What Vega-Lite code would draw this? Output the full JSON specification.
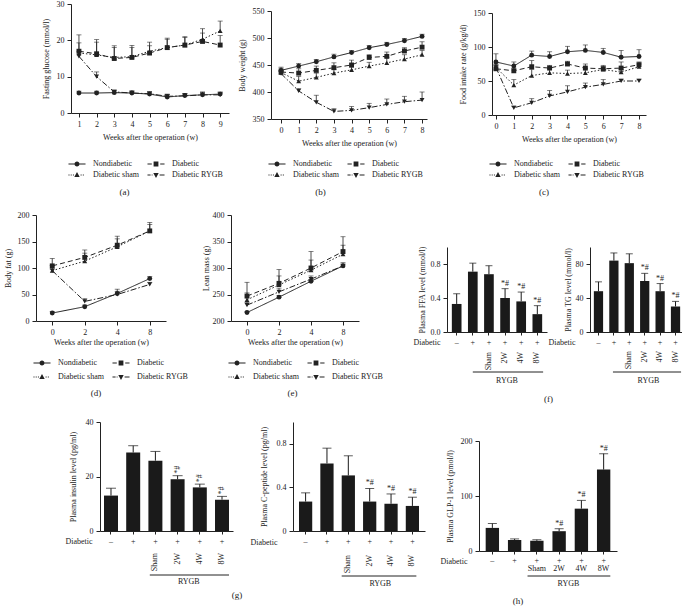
{
"$schema": "https://vega.github.io/schema/vega-lite/v6.json",
"padding": {"left": 4, "top": 0, "right": 0, "bottom": 0},
"background": "white",
"center": true,
"spacing": 14,
"datasets": {
"glucose": [
{"week":1,"group":"Nondiabetic","mean":5.5,"hi":6.0},{"week":2,"group":"Nondiabetic","mean":5.5,"hi":6.0},{"week":3,"group":"Nondiabetic","mean":5.6,"hi":6.1},{"week":4,"group":"Nondiabetic","mean":5.5,"hi":6.1},{"week":5,"group":"Nondiabetic","mean":5.2,"hi":5.8},{"week":6,"group":"Nondiabetic","mean":4.4,"hi":5.1},{"week":7,"group":"Nondiabetic","mean":4.8,"hi":5.4},{"week":8,"group":"Nondiabetic","mean":5.0,"hi":5.8},{"week":9,"group":"Nondiabetic","mean":5.2,"hi":5.8},
{"week":1,"group":"Diabetic","mean":17.0,"hi":21.5},{"week":2,"group":"Diabetic","mean":16.3,"hi":20.2},{"week":3,"group":"Diabetic","mean":15.0,"hi":18.5},{"week":4,"group":"Diabetic","mean":15.3,"hi":18.6},{"week":5,"group":"Diabetic","mean":16.5,"hi":19.5},{"week":6,"group":"Diabetic","mean":18.0,"hi":20.6},{"week":7,"group":"Diabetic","mean":18.7,"hi":21.0},{"week":8,"group":"Diabetic","mean":19.7,"hi":23.2},{"week":9,"group":"Diabetic","mean":18.7,"hi":21.3},
{"week":1,"group":"Diabetic sham","mean":16.5,"hi":19.3},{"week":2,"group":"Diabetic sham","mean":16.0,"hi":19.5},{"week":3,"group":"Diabetic sham","mean":15.3,"hi":18.0},{"week":4,"group":"Diabetic sham","mean":15.5,"hi":18.0},{"week":5,"group":"Diabetic sham","mean":17.0,"hi":18.5},{"week":6,"group":"Diabetic sham","mean":18.0,"hi":20.3},{"week":7,"group":"Diabetic sham","mean":18.7,"hi":20.8},{"week":8,"group":"Diabetic sham","mean":20.3,"hi":22.0},{"week":9,"group":"Diabetic sham","mean":22.6,"hi":25.3},
{"week":1,"group":"Diabetic RYGB","mean":15.6,"hi":17.0},{"week":2,"group":"Diabetic RYGB","mean":10.0,"hi":11.3},{"week":3,"group":"Diabetic RYGB","mean":5.8,"hi":6.3},{"week":4,"group":"Diabetic RYGB","mean":5.5,"hi":6.0},{"week":5,"group":"Diabetic RYGB","mean":5.3,"hi":5.8},{"week":6,"group":"Diabetic RYGB","mean":4.6,"hi":5.2},{"week":7,"group":"Diabetic RYGB","mean":4.7,"hi":5.3},{"week":8,"group":"Diabetic RYGB","mean":5.0,"hi":5.6},{"week":9,"group":"Diabetic RYGB","mean":5.0,"hi":5.6}
],
"weight": [
{"week":0,"group":"Nondiabetic","mean":440,"hi":446},{"week":1,"group":"Nondiabetic","mean":448,"hi":453},{"week":2,"group":"Nondiabetic","mean":456,"hi":460},{"week":3,"group":"Nondiabetic","mean":465,"hi":470},{"week":4,"group":"Nondiabetic","mean":473,"hi":477},{"week":5,"group":"Nondiabetic","mean":482,"hi":486},{"week":6,"group":"Nondiabetic","mean":488,"hi":492},{"week":7,"group":"Nondiabetic","mean":495,"hi":499},{"week":8,"group":"Nondiabetic","mean":503,"hi":507},
{"week":0,"group":"Diabetic","mean":437,"hi":444},{"week":1,"group":"Diabetic","mean":435,"hi":443},{"week":2,"group":"Diabetic","mean":440,"hi":448},{"week":3,"group":"Diabetic","mean":445,"hi":454},{"week":4,"group":"Diabetic","mean":450,"hi":459},{"week":5,"group":"Diabetic","mean":464,"hi":469},{"week":6,"group":"Diabetic","mean":466,"hi":474},{"week":7,"group":"Diabetic","mean":476,"hi":482},{"week":8,"group":"Diabetic","mean":483,"hi":493},
{"week":0,"group":"Diabetic sham","mean":436,"hi":441},{"week":1,"group":"Diabetic sham","mean":420,"hi":429},{"week":2,"group":"Diabetic sham","mean":427,"hi":435},{"week":3,"group":"Diabetic sham","mean":435,"hi":442},{"week":4,"group":"Diabetic sham","mean":441,"hi":446},{"week":5,"group":"Diabetic sham","mean":448,"hi":455},{"week":6,"group":"Diabetic sham","mean":454,"hi":464},{"week":7,"group":"Diabetic sham","mean":461,"hi":469},{"week":8,"group":"Diabetic sham","mean":469,"hi":477},
{"week":0,"group":"Diabetic RYGB","mean":434,"hi":438},{"week":1,"group":"Diabetic RYGB","mean":402,"hi":406},{"week":2,"group":"Diabetic RYGB","mean":381,"hi":394},{"week":3,"group":"Diabetic RYGB","mean":364,"hi":369},{"week":4,"group":"Diabetic RYGB","mean":366,"hi":373},{"week":5,"group":"Diabetic RYGB","mean":371,"hi":379},{"week":6,"group":"Diabetic RYGB","mean":377,"hi":387},{"week":7,"group":"Diabetic RYGB","mean":382,"hi":392},{"week":8,"group":"Diabetic RYGB","mean":385,"hi":400}
],
"food": [
{"week":0,"group":"Nondiabetic","mean":78,"hi":90},{"week":1,"group":"Nondiabetic","mean":72,"hi":78},{"week":2,"group":"Nondiabetic","mean":88,"hi":94},{"week":3,"group":"Nondiabetic","mean":86,"hi":93},{"week":4,"group":"Nondiabetic","mean":93,"hi":101},{"week":5,"group":"Nondiabetic","mean":95,"hi":103},{"week":6,"group":"Nondiabetic","mean":92,"hi":98},{"week":7,"group":"Nondiabetic","mean":85,"hi":95},{"week":8,"group":"Nondiabetic","mean":86,"hi":96},
{"week":0,"group":"Diabetic","mean":68,"hi":73},{"week":1,"group":"Diabetic","mean":65,"hi":69},{"week":2,"group":"Diabetic","mean":71,"hi":80},{"week":3,"group":"Diabetic","mean":69,"hi":73},{"week":4,"group":"Diabetic","mean":75,"hi":79},{"week":5,"group":"Diabetic","mean":69,"hi":75},{"week":6,"group":"Diabetic","mean":68,"hi":73},{"week":7,"group":"Diabetic","mean":69,"hi":78},{"week":8,"group":"Diabetic","mean":74,"hi":78},
{"week":0,"group":"Diabetic sham","mean":70,"hi":75},{"week":1,"group":"Diabetic sham","mean":44,"hi":52},{"week":2,"group":"Diabetic sham","mean":58,"hi":67},{"week":3,"group":"Diabetic sham","mean":62,"hi":68},{"week":4,"group":"Diabetic sham","mean":61,"hi":66},{"week":5,"group":"Diabetic sham","mean":62,"hi":68},{"week":6,"group":"Diabetic sham","mean":67,"hi":71},{"week":7,"group":"Diabetic sham","mean":63,"hi":67},{"week":8,"group":"Diabetic sham","mean":71,"hi":75},
{"week":0,"group":"Diabetic RYGB","mean":70,"hi":74},{"week":1,"group":"Diabetic RYGB","mean":10.5,"hi":13},{"week":2,"group":"Diabetic RYGB","mean":18,"hi":24},{"week":3,"group":"Diabetic RYGB","mean":28,"hi":36},{"week":4,"group":"Diabetic RYGB","mean":34,"hi":43},{"week":5,"group":"Diabetic RYGB","mean":41,"hi":47},{"week":6,"group":"Diabetic RYGB","mean":45,"hi":52},{"week":7,"group":"Diabetic RYGB","mean":50,"hi":53},{"week":8,"group":"Diabetic RYGB","mean":50,"hi":53}
],
"fat": [
{"week":0,"group":"Nondiabetic","mean":15,"hi":18},{"week":2,"group":"Nondiabetic","mean":27,"hi":30},{"week":4,"group":"Nondiabetic","mean":52,"hi":60},{"week":8,"group":"Nondiabetic","mean":80,"hi":84},
{"week":0,"group":"Diabetic","mean":104,"hi":118},{"week":2,"group":"Diabetic","mean":120,"hi":134},{"week":4,"group":"Diabetic","mean":143,"hi":160},{"week":8,"group":"Diabetic","mean":170,"hi":186},
{"week":0,"group":"Diabetic sham","mean":95,"hi":105},{"week":2,"group":"Diabetic sham","mean":113,"hi":128},{"week":4,"group":"Diabetic sham","mean":140,"hi":155},{"week":8,"group":"Diabetic sham","mean":170,"hi":182},
{"week":0,"group":"Diabetic RYGB","mean":95,"hi":98},{"week":2,"group":"Diabetic RYGB","mean":37,"hi":42},{"week":4,"group":"Diabetic RYGB","mean":50,"hi":56},{"week":8,"group":"Diabetic RYGB","mean":69,"hi":73}
],
"lean": [
{"week":0,"group":"Nondiabetic","mean":216,"hi":218},{"week":2,"group":"Nondiabetic","mean":245,"hi":248},{"week":4,"group":"Nondiabetic","mean":275,"hi":278},{"week":8,"group":"Nondiabetic","mean":304,"hi":307},
{"week":0,"group":"Diabetic","mean":247,"hi":273},{"week":2,"group":"Diabetic","mean":271,"hi":297},{"week":4,"group":"Diabetic","mean":300,"hi":331},{"week":8,"group":"Diabetic","mean":331,"hi":359},
{"week":0,"group":"Diabetic sham","mean":240,"hi":253},{"week":2,"group":"Diabetic sham","mean":268,"hi":285},{"week":4,"group":"Diabetic sham","mean":296,"hi":315},{"week":8,"group":"Diabetic sham","mean":326,"hi":343},
{"week":0,"group":"Diabetic RYGB","mean":230,"hi":235},{"week":2,"group":"Diabetic RYGB","mean":255,"hi":262},{"week":4,"group":"Diabetic RYGB","mean":279,"hi":285},{"week":8,"group":"Diabetic RYGB","mean":304,"hi":310}
],
"ffa": [
{"group":"ND","sub":"","mean":0.33,"hi":0.45,"sig":""},{"group":"D","sub":"","mean":0.71,"hi":0.81,"sig":""},{"group":"Sham","sub":"Sham","mean":0.68,"hi":0.78,"sig":""},{"group":"2W","sub":"2W","mean":0.40,"hi":0.51,"sig":"*#"},{"group":"4W","sub":"4W","mean":0.36,"hi":0.47,"sig":"*#"},{"group":"8W","sub":"8W","mean":0.21,"hi":0.31,"sig":"*#"}
],
"tg": [
{"group":"ND","sub":"","mean":48,"hi":59,"sig":""},{"group":"D","sub":"","mean":84,"hi":93,"sig":""},{"group":"Sham","sub":"Sham","mean":81,"hi":92,"sig":""},{"group":"2W","sub":"2W","mean":60,"hi":69,"sig":"*#"},{"group":"4W","sub":"4W","mean":48,"hi":57,"sig":"*#"},{"group":"8W","sub":"8W","mean":30,"hi":36,"sig":"*#"}
],
"insulin": [
{"group":"ND","sub":"","mean":13,"hi":15.7,"sig":""},{"group":"D","sub":"","mean":28.8,"hi":31.3,"sig":""},{"group":"Sham","sub":"Sham","mean":25.8,"hi":29.2,"sig":""},{"group":"2W","sub":"2W","mean":19,"hi":20.3,"sig":"*#"},{"group":"4W","sub":"4W","mean":16,"hi":17.2,"sig":"*#"},{"group":"8W","sub":"8W","mean":11.5,"hi":12.7,"sig":"*#"}
],
"cpep": [
{"group":"ND","sub":"","mean":0.27,"hi":0.35,"sig":""},{"group":"D","sub":"","mean":0.62,"hi":0.76,"sig":""},{"group":"Sham","sub":"Sham","mean":0.51,"hi":0.69,"sig":""},{"group":"2W","sub":"2W","mean":0.27,"hi":0.39,"sig":"*#"},{"group":"4W","sub":"4W","mean":0.25,"hi":0.34,"sig":"*#"},{"group":"8W","sub":"8W","mean":0.23,"hi":0.31,"sig":"*#"}
],
"glp": [
{"group":"ND","sub":"","mean":42,"hi":50,"sig":""},{"group":"D","sub":"","mean":20,"hi":22,"sig":""},{"group":"Sham","sub":"Sham","mean":18.5,"hi":20.5,"sig":""},{"group":"2W","sub":"2W","mean":36,"hi":40.5,"sig":"*#"},{"group":"4W","sub":"4W","mean":77,"hi":92,"sig":"*#"},{"group":"8W","sub":"8W","mean":148,"hi":177,"sig":"*#"}
]
},
"vconcat": [
{"hconcat": [
 {"title": {"text": "(a)", "orient": "bottom", "anchor": "middle", "offset": 9, "frame": "bounds", "dx": -11},
  "width": 158, "height": 109, "data": {"name": "glucose"},
  "encoding": {
   "x": {"field": "week", "type": "quantitative", "scale": {"domain": [0.55, 9.5], "nice": false, "zero": false}, "axis": {"values": [1,2,3,4,5,6,7,8,9], "title": "Weeks after the operation (w)", "titlePadding": 5}},
   "y": {"field": "mean", "type": "quantitative", "scale": {"domain": [0, 30], "nice": false}, "axis": {"values": [0,10,20,30], "title": "Fasting glucose (mmol/l)", "titlePadding": 6}}
  },
  "layer": [
   {"mark": {"type": "rule", "color": "#222", "strokeWidth": 0.8}, "encoding": {"y2": {"field": "hi"}}},
   {"mark": {"type": "tick", "orient": "horizontal", "size": 5, "thickness": 0.8, "color": "#222"}, "encoding": {"y": {"field": "hi", "type": "quantitative"}}},
   {"mark": {"type": "line", "color": "#222", "strokeWidth": 1}, "encoding": {"strokeDash": {"field": "group", "type": "nominal", "scale": {"domain": ["Nondiabetic","Diabetic","Diabetic sham","Diabetic RYGB"], "range": [[1,0],[5,3],[1.5,2],[6,2,1.5,2]]}, "legend": null}}},
   {"mark": {"type": "point", "filled": true, "color": "#222", "size": 24, "opacity": 1}, "encoding": {"shape": {"field": "group", "type": "nominal", "scale": {"domain": ["Nondiabetic","Diabetic","Diabetic sham","Diabetic RYGB"], "range": ["circle","square","triangle-up","triangle-down"]}, "legend": null}}},
   {"transform": [{"filter": "false"}], "mark": {"type": "point", "filled": true, "color": "#222", "opacity": 1},
    "encoding": {"shape": {"field": "group", "type": "nominal", "scale": {"domain": ["Nondiabetic","Diabetic","Diabetic sham","Diabetic RYGB"], "range": ["M-1.42,-0.085H-0.42V0.085H-1.42ZM0.42,-0.085H1.42V0.085H0.42ZM0.42,0A0.42,0.42,0,1,1,-0.42,0A0.42,0.42,0,1,1,0.42,0Z","M-1.42,-0.085H-0.7V0.085H-1.42ZM0.7,-0.085H1.42V0.085H0.7ZM-0.4,-0.4H0.4V0.4H-0.4Z","M-1.42,-0.085H-1.25V0.085H-1.42ZM-1.05,-0.085H-0.88V0.085H-1.05ZM-0.68,-0.085H-0.51V0.085H-0.68ZM0.6,-0.085H0.77V0.085H0.6ZM0.97,-0.085H1.14V0.085H0.97ZM0,-0.48L0.45,0.34L-0.45,0.34Z","M-1.42,-0.085H-0.9V0.085H-1.42ZM-0.72,-0.085H-0.58V0.085H-0.72ZM0.6,-0.085H1.42V0.085H0.6ZM0,0.48L0.45,-0.34L-0.45,-0.34Z"]},
     "legend": {"title": null, "offset": 17, "rowPadding": 1}}}},
   {"data": {"values": [{}]}, "mark": {"type": "rule", "color": "#222", "strokeWidth": 0.8}, "encoding": {"x": {"datum": 2.6}, "y": {"datum": 9.6}, "y2": {"datum": 15.4}}},
   {"data": {"values": [{}]}, "mark": {"type": "text", "text": "*", "fontSize": 8, "color": "#222"}, "encoding": {"x": {"datum": 2.93}, "y": {"datum": 12.1}}}
  ],
  "resolve": {"scale": {"shape": "independent"}}
 },
 {"hconcat": [
  {"vconcat": [
   {"width": 1, "height": 1, "data": {"values": []}, "mark": {"type": "point"}, "encoding": {}},
   {"width": 156, "height": 108, "data": {"name": "weight"},
    "encoding": {
     "x": {"field": "week", "type": "quantitative", "scale": {"domain": [-0.57, 8.28], "nice": false, "zero": false}, "axis": {"values": [0,1,2,3,4,5,6,7,8], "title": "Weeks after the operation (w)", "titlePadding": 5}},
     "y": {"field": "mean", "type": "quantitative", "scale": {"domain": [350, 550], "nice": false, "zero": false}, "axis": {"values": [350,400,450,500,550], "title": "Body weight (g)", "titlePadding": 6}}
    },
    "layer": [
     {"mark": {"type": "rule", "color": "#222", "strokeWidth": 0.8}, "encoding": {"y2": {"field": "hi"}}},
     {"mark": {"type": "tick", "orient": "horizontal", "size": 5, "thickness": 0.8, "color": "#222"}, "encoding": {"y": {"field": "hi", "type": "quantitative"}}},
     {"mark": {"type": "line", "color": "#222", "strokeWidth": 1}, "encoding": {"strokeDash": {"field": "group", "type": "nominal", "scale": {"domain": ["Nondiabetic","Diabetic","Diabetic sham","Diabetic RYGB"], "range": [[1,0],[5,3],[1.5,2],[6,2,1.5,2]]}, "legend": null}}},
     {"mark": {"type": "point", "filled": true, "color": "#222", "size": 24, "opacity": 1}, "encoding": {"shape": {"field": "group", "type": "nominal", "scale": {"domain": ["Nondiabetic","Diabetic","Diabetic sham","Diabetic RYGB"], "range": ["circle","square","triangle-up","triangle-down"]}, "legend": null}}},
     {"transform": [{"filter": "false"}], "mark": {"type": "point", "filled": true, "color": "#222", "opacity": 1},
      "encoding": {"shape": {"field": "group", "type": "nominal", "scale": {"domain": ["Nondiabetic","Diabetic","Diabetic sham","Diabetic RYGB"], "range": ["M-1.42,-0.085H-0.42V0.085H-1.42ZM0.42,-0.085H1.42V0.085H0.42ZM0.42,0A0.42,0.42,0,1,1,-0.42,0A0.42,0.42,0,1,1,0.42,0Z","M-1.42,-0.085H-0.7V0.085H-1.42ZM0.7,-0.085H1.42V0.085H0.7ZM-0.4,-0.4H0.4V0.4H-0.4Z","M-1.42,-0.085H-1.25V0.085H-1.42ZM-1.05,-0.085H-0.88V0.085H-1.05ZM-0.68,-0.085H-0.51V0.085H-0.68ZM0.6,-0.085H0.77V0.085H0.6ZM0.97,-0.085H1.14V0.085H0.97ZM0,-0.48L0.45,0.34L-0.45,0.34Z","M-1.42,-0.085H-0.9V0.085H-1.42ZM-0.72,-0.085H-0.58V0.085H-0.72ZM0.6,-0.085H1.42V0.085H0.6ZM0,0.48L0.45,-0.34L-0.45,-0.34Z"]},
       "legend": {"title": null, "offset": 11, "rowPadding": 1}}}}
    ],
    "resolve": {"scale": {"shape": "independent"}}
   }
  ], "spacing": 2, "title": {"text": "(b)", "orient": "bottom", "anchor": "middle", "offset": 9, "frame": "bounds", "dx": -12}},
  {"vconcat": [
   {"width": 157, "height": 1, "data": {"values": []}, "mark": {"type": "point"}, "encoding": {}},
   {"width": 154, "height": 102, "data": {"name": "food"},
    "encoding": {
     "x": {"field": "week", "type": "quantitative", "scale": {"domain": [-0.22, 8.39], "nice": false, "zero": false}, "axis": {"values": [0,1,2,3,4,5,6,7,8], "title": "Weeks after the operation (w)", "titlePadding": 5}},
     "y": {"field": "mean", "type": "quantitative", "scale": {"domain": [0, 150], "nice": false}, "axis": {"values": [0,50,100,150], "title": "Food intake rate (g/kg/d)", "titlePadding": 6}}
    },
    "layer": [
     {"mark": {"type": "rule", "color": "#222", "strokeWidth": 0.8}, "encoding": {"y2": {"field": "hi"}}},
     {"mark": {"type": "tick", "orient": "horizontal", "size": 5, "thickness": 0.8, "color": "#222"}, "encoding": {"y": {"field": "hi", "type": "quantitative"}}},
     {"mark": {"type": "line", "color": "#222", "strokeWidth": 1}, "encoding": {"strokeDash": {"field": "group", "type": "nominal", "scale": {"domain": ["Nondiabetic","Diabetic","Diabetic sham","Diabetic RYGB"], "range": [[1,0],[5,3],[1.5,2],[6,2,1.5,2]]}, "legend": null}}},
     {"mark": {"type": "point", "filled": true, "color": "#222", "size": 24, "opacity": 1}, "encoding": {"shape": {"field": "group", "type": "nominal", "scale": {"domain": ["Nondiabetic","Diabetic","Diabetic sham","Diabetic RYGB"], "range": ["circle","square","triangle-up","triangle-down"]}, "legend": null}}},
     {"transform": [{"filter": "false"}], "mark": {"type": "point", "filled": true, "color": "#222", "opacity": 1},
      "encoding": {"shape": {"field": "group", "type": "nominal", "scale": {"domain": ["Nondiabetic","Diabetic","Diabetic sham","Diabetic RYGB"], "range": ["M-1.42,-0.085H-0.42V0.085H-1.42ZM0.42,-0.085H1.42V0.085H0.42ZM0.42,0A0.42,0.42,0,1,1,-0.42,0A0.42,0.42,0,1,1,0.42,0Z","M-1.42,-0.085H-0.7V0.085H-1.42ZM0.7,-0.085H1.42V0.085H0.7ZM-0.4,-0.4H0.4V0.4H-0.4Z","M-1.42,-0.085H-1.25V0.085H-1.42ZM-1.05,-0.085H-0.88V0.085H-1.05ZM-0.68,-0.085H-0.51V0.085H-0.68ZM0.6,-0.085H0.77V0.085H0.6ZM0.97,-0.085H1.14V0.085H0.97ZM0,-0.48L0.45,0.34L-0.45,0.34Z","M-1.42,-0.085H-0.9V0.085H-1.42ZM-0.72,-0.085H-0.58V0.085H-0.72ZM0.6,-0.085H1.42V0.085H0.6ZM0,0.48L0.45,-0.34L-0.45,-0.34Z"]},
       "legend": {"title": null, "offset": 15, "rowPadding": 1}}}}
    ],
    "resolve": {"scale": {"shape": "independent"}}
   }
  ], "spacing": 4, "title": {"text": "(c)", "orient": "bottom", "anchor": "middle", "offset": 9, "frame": "bounds", "dx": -10}}
 ], "spacing": 32}
], "spacing": 9},
{"hconcat": [
 {"hconcat": [
 {"title": {"text": "(d)", "orient": "bottom", "anchor": "middle", "offset": 8, "frame": "bounds"},
  "width": 130, "height": 106, "data": {"name": "fat"},
  "encoding": {
   "x": {"field": "week", "type": "ordinal", "scale": {"type": "point", "padding": 0.5}, "axis": {"labelAngle": 0, "title": "Weeks after the operation (w)", "titlePadding": 2}},
   "y": {"field": "mean", "type": "quantitative", "scale": {"domain": [0, 200], "nice": false}, "axis": {"values": [0,50,100,150,200], "title": "Body fat (g)", "titlePadding": 5}}
  },
  "layer": [
   {"mark": {"type": "rule", "color": "#222", "strokeWidth": 0.8}, "encoding": {"y2": {"field": "hi"}}},
   {"mark": {"type": "tick", "orient": "horizontal", "size": 5, "thickness": 0.8, "color": "#222"}, "encoding": {"y": {"field": "hi", "type": "quantitative"}}},
   {"mark": {"type": "line", "color": "#222", "strokeWidth": 1}, "encoding": {"strokeDash": {"field": "group", "type": "nominal", "scale": {"domain": ["Nondiabetic","Diabetic","Diabetic sham","Diabetic RYGB"], "range": [[1,0],[5,3],[1.5,2],[6,2,1.5,2]]}, "legend": null}}},
   {"mark": {"type": "point", "filled": true, "color": "#222", "size": 24, "opacity": 1}, "encoding": {"shape": {"field": "group", "type": "nominal", "scale": {"domain": ["Nondiabetic","Diabetic","Diabetic sham","Diabetic RYGB"], "range": ["circle","square","triangle-up","triangle-down"]}, "legend": null}}},
   {"transform": [{"filter": "false"}], "mark": {"type": "point", "filled": true, "color": "#222", "opacity": 1},
    "encoding": {"shape": {"field": "group", "type": "nominal", "scale": {"domain": ["Nondiabetic","Diabetic","Diabetic sham","Diabetic RYGB"], "range": ["M-1.42,-0.085H-0.42V0.085H-1.42ZM0.42,-0.085H1.42V0.085H0.42ZM0.42,0A0.42,0.42,0,1,1,-0.42,0A0.42,0.42,0,1,1,0.42,0Z","M-1.42,-0.085H-0.7V0.085H-1.42ZM0.7,-0.085H1.42V0.085H0.7ZM-0.4,-0.4H0.4V0.4H-0.4Z","M-1.42,-0.085H-1.25V0.085H-1.42ZM-1.05,-0.085H-0.88V0.085H-1.05ZM-0.68,-0.085H-0.51V0.085H-0.68ZM0.6,-0.085H0.77V0.085H0.6ZM0.97,-0.085H1.14V0.085H0.97ZM0,-0.48L0.45,0.34L-0.45,0.34Z","M-1.42,-0.085H-0.9V0.085H-1.42ZM-0.72,-0.085H-0.58V0.085H-0.72ZM0.6,-0.085H1.42V0.085H0.6ZM0,0.48L0.45,-0.34L-0.45,-0.34Z"]},
     "legend": {"title": null, "offset": 11, "rowPadding": 4}}}},
   {"data": {"values": [{}]}, "mark": {"type": "rule", "color": "#222", "strokeWidth": 0.8, "xOffset": 5}, "encoding": {"x": {"datum": 8, "type": "ordinal"}, "y": {"datum": 81}, "y2": {"datum": 170}}},
   {"data": {"values": [{}]}, "mark": {"type": "text", "text": "*", "fontSize": 8, "color": "#222", "xOffset": 10}, "encoding": {"x": {"datum": 8, "type": "ordinal"}, "y": {"datum": 128}}}
  ],
  "resolve": {"scale": {"shape": "independent"}}
 },
 {"title": {"text": "(e)", "orient": "bottom", "anchor": "middle", "offset": 8, "frame": "bounds"},
  "width": 128, "height": 106, "data": {"name": "lean"},
  "encoding": {
   "x": {"field": "week", "type": "ordinal", "scale": {"type": "point", "padding": 0.5}, "axis": {"labelAngle": 0, "title": "Weeks after the operation (w)", "titlePadding": 2}},
   "y": {"field": "mean", "type": "quantitative", "scale": {"domain": [200, 400], "nice": false, "zero": false}, "axis": {"values": [200,250,300,350,400], "title": "Lean mass (g)", "titlePadding": 2}}
  },
  "layer": [
   {"mark": {"type": "rule", "color": "#222", "strokeWidth": 0.8}, "encoding": {"y2": {"field": "hi"}}},
   {"mark": {"type": "tick", "orient": "horizontal", "size": 5, "thickness": 0.8, "color": "#222"}, "encoding": {"y": {"field": "hi", "type": "quantitative"}}},
   {"mark": {"type": "line", "color": "#222", "strokeWidth": 1}, "encoding": {"strokeDash": {"field": "group", "type": "nominal", "scale": {"domain": ["Nondiabetic","Diabetic","Diabetic sham","Diabetic RYGB"], "range": [[1,0],[5,3],[1.5,2],[6,2,1.5,2]]}, "legend": null}}},
   {"mark": {"type": "point", "filled": true, "color": "#222", "size": 24, "opacity": 1}, "encoding": {"shape": {"field": "group", "type": "nominal", "scale": {"domain": ["Nondiabetic","Diabetic","Diabetic sham","Diabetic RYGB"], "range": ["circle","square","triangle-up","triangle-down"]}, "legend": null}}},
   {"transform": [{"filter": "false"}], "mark": {"type": "point", "filled": true, "color": "#222", "opacity": 1},
    "encoding": {"shape": {"field": "group", "type": "nominal", "scale": {"domain": ["Nondiabetic","Diabetic","Diabetic sham","Diabetic RYGB"], "range": ["M-1.42,-0.085H-0.42V0.085H-1.42ZM0.42,-0.085H1.42V0.085H0.42ZM0.42,0A0.42,0.42,0,1,1,-0.42,0A0.42,0.42,0,1,1,0.42,0Z","M-1.42,-0.085H-0.7V0.085H-1.42ZM0.7,-0.085H1.42V0.085H0.7ZM-0.4,-0.4H0.4V0.4H-0.4Z","M-1.42,-0.085H-1.25V0.085H-1.42ZM-1.05,-0.085H-0.88V0.085H-1.05ZM-0.68,-0.085H-0.51V0.085H-0.68ZM0.6,-0.085H0.77V0.085H0.6ZM0.97,-0.085H1.14V0.085H0.97ZM0,-0.48L0.45,0.34L-0.45,0.34Z","M-1.42,-0.085H-0.9V0.085H-1.42ZM-0.72,-0.085H-0.58V0.085H-0.72ZM0.6,-0.085H1.42V0.085H0.6ZM0,0.48L0.45,-0.34L-0.45,-0.34Z"]},
     "legend": {"title": null, "offset": 11, "rowPadding": 4}}}}
  ],
  "resolve": {"scale": {"shape": "independent"}}
 }
 ], "spacing": 14},
 {"vconcat": [
  {"width": 1, "height": 1, "data": {"values": []}, "mark": {"type": "point"}, "encoding": {}},
  {"hconcat": [
  {"width": 100, "height": 85, "data": {"name": "ffa"},
   "encoding": {"x": {"field": "group", "type": "nominal", "scale": {"domain": ["ND","D","Sham","2W","4W","8W"], "paddingInner": 0.4, "paddingOuter": 0.3},
     "axis": {"labelExpr": "datum.value == 'ND' ? '–' : '+'", "labelAngle": 0, "tickSize": 3, "labelPadding": 3, "title": "Diabetic", "titleAngle": 0, "titleAlign": "right", "titleBaseline": "top", "titleX": -7, "titleY": 6}}},
   "layer": [
    {"mark": {"type": "bar", "color": "#1a1a1a"}, "encoding": {"y": {"field": "mean", "type": "quantitative", "scale": {"domain": [0, 1], "nice": false}, "axis": {"values": [0,0.2,0.4,0.6,0.8,1], "format": ".1f", "title": "Plasma FFA level (mmol/l)", "titlePadding": 4}}}},
    {"mark": {"type": "rule", "color": "#1a1a1a"}, "encoding": {"y": {"field": "mean", "type": "quantitative"}, "y2": {"field": "hi"}}},
    {"mark": {"type": "tick", "orient": "horizontal", "size": 7, "thickness": 1, "color": "#1a1a1a"}, "encoding": {"y": {"field": "hi", "type": "quantitative"}}},
    {"mark": {"type": "text", "baseline": "bottom", "dy": -1, "fontSize": 8, "color": "#222"}, "encoding": {"y": {"field": "hi", "type": "quantitative"}, "text": {"field": "sig"}}},
    {"transform": [{"filter": "datum.sub != ''"}], "mark": {"type": "text", "angle": 270, "align": "right", "baseline": "middle", "dx": -20, "fontSize": 8, "color": "#222"}, "encoding": {"y": {"datum": 0}, "text": {"field": "sub"}}},
    {"data": {"values": [{}]}, "mark": {"type": "rule", "color": "#222", "yOffset": 40}, "encoding": {"x": {"datum": "D", "bandPosition": 0.5}, "x2": {"datum": "8W", "bandPosition": 1.1}, "y": {"datum": 0}}},
    {"data": {"values": [{}]}, "mark": {"type": "text", "text": "RYGB", "baseline": "top", "yOffset": 45, "fontSize": 8, "color": "#222"}, "encoding": {"x": {"datum": "2W", "bandPosition": 0.7}, "y": {"datum": 0}}}
   ]
  },
  {"width": 94, "height": 85, "data": {"name": "tg"},
   "encoding": {"x": {"field": "group", "type": "nominal", "scale": {"domain": ["ND","D","Sham","2W","4W","8W"], "paddingInner": 0.4, "paddingOuter": 0.25},
     "axis": {"labelExpr": "datum.value == 'ND' ? '–' : '+'", "labelAngle": 0, "tickSize": 3, "labelPadding": 3, "title": "Diabetic", "titleAngle": 0, "titleAlign": "right", "titleBaseline": "top", "titleX": -15, "titleY": 6}}},
   "layer": [
    {"mark": {"type": "bar", "color": "#1a1a1a"}, "encoding": {"y": {"field": "mean", "type": "quantitative", "scale": {"domain": [0, 100], "nice": false}, "axis": {"values": [0,20,40,60,80,100], "title": "Plasma TG level (mmol/l)", "titlePadding": 3}}}},
    {"mark": {"type": "rule", "color": "#1a1a1a"}, "encoding": {"y": {"field": "mean", "type": "quantitative"}, "y2": {"field": "hi"}}},
    {"mark": {"type": "tick", "orient": "horizontal", "size": 7, "thickness": 1, "color": "#1a1a1a"}, "encoding": {"y": {"field": "hi", "type": "quantitative"}}},
    {"mark": {"type": "text", "baseline": "bottom", "dy": -1, "fontSize": 8, "color": "#222"}, "encoding": {"y": {"field": "hi", "type": "quantitative"}, "text": {"field": "sig"}}},
    {"transform": [{"filter": "datum.sub != ''"}], "mark": {"type": "text", "angle": 270, "align": "right", "baseline": "middle", "dx": -19, "fontSize": 8, "color": "#222"}, "encoding": {"y": {"datum": 0}, "text": {"field": "sub"}}},
    {"data": {"values": [{}]}, "mark": {"type": "rule", "color": "#222", "yOffset": 40}, "encoding": {"x": {"datum": "D", "bandPosition": 0.4}, "x2": {"datum": "8W", "bandPosition": 1.1}, "y": {"datum": 0}}},
    {"data": {"values": [{}]}, "mark": {"type": "text", "text": "RYGB", "baseline": "top", "yOffset": 45, "fontSize": 8, "color": "#222"}, "encoding": {"x": {"datum": "2W", "bandPosition": 0.9}, "y": {"datum": 0}}}
   ]
  }
  ], "spacing": 0}
 ], "spacing": 27, "title": {"text": "(f)", "orient": "bottom", "anchor": "middle", "offset": 10, "frame": "bounds"}}
], "spacing": 29},
{"hconcat": [
 {"hconcat": [
  {"width": 133, "height": 109, "data": {"name": "insulin"},
   "encoding": {"x": {"field": "group", "type": "nominal", "scale": {"domain": ["ND","D","Sham","2W","4W","8W"], "paddingInner": 0.37, "paddingOuter": 0.18},
     "axis": {"labelExpr": "datum.value == 'ND' ? '–' : '+'", "labelAngle": 0, "tickSize": 3, "labelPadding": 3, "title": "Diabetic", "titleAngle": 0, "titleAlign": "right", "titleBaseline": "top", "titleX": -8, "titleY": 6}}},
   "layer": [
    {"mark": {"type": "bar", "color": "#1a1a1a"}, "encoding": {"y": {"field": "mean", "type": "quantitative", "scale": {"domain": [0, 40], "nice": false}, "axis": {"values": [0,10,20,30,40], "title": "Plasma insulin level (pg/ml)", "titlePadding": 8}}}},
    {"mark": {"type": "rule", "color": "#1a1a1a"}, "encoding": {"y": {"field": "mean", "type": "quantitative"}, "y2": {"field": "hi"}}},
    {"mark": {"type": "tick", "orient": "horizontal", "size": 10, "thickness": 1, "color": "#1a1a1a"}, "encoding": {"y": {"field": "hi", "type": "quantitative"}}},
    {"mark": {"type": "text", "angle": 270, "align": "left", "baseline": "middle", "dx": 2, "fontSize": 8, "color": "#222"}, "encoding": {"y": {"field": "hi", "type": "quantitative"}, "text": {"field": "sig"}}},
    {"transform": [{"filter": "datum.sub != ''"}], "mark": {"type": "text", "angle": 270, "align": "right", "baseline": "middle", "dx": -22, "fontSize": 8, "color": "#222"}, "encoding": {"y": {"datum": 0}, "text": {"field": "sub"}}},
    {"data": {"values": [{}]}, "mark": {"type": "rule", "color": "#222", "yOffset": 44}, "encoding": {"x": {"datum": "Sham", "bandPosition": 0.1}, "x2": {"datum": "8W", "bandPosition": 1.0}, "y": {"datum": 0}}},
    {"data": {"values": [{}]}, "mark": {"type": "text", "text": "RYGB", "baseline": "top", "yOffset": 47, "fontSize": 8, "color": "#222"}, "encoding": {"x": {"datum": "2W", "bandPosition": 1.3}, "y": {"datum": 0}}}
   ]
  },
  {"width": 132, "height": 109, "data": {"name": "cpep"},
   "encoding": {"x": {"field": "group", "type": "nominal", "scale": {"domain": ["ND","D","Sham","2W","4W","8W"], "paddingInner": 0.38, "paddingOuter": 0.28},
     "axis": {"labelExpr": "datum.value == 'ND' ? '–' : '+'", "labelAngle": 0, "tickSize": 3, "labelPadding": 3, "title": "Diabetic", "titleAngle": 0, "titleAlign": "right", "titleBaseline": "top", "titleX": -16, "titleY": 7}}},
   "layer": [
    {"mark": {"type": "bar", "color": "#1a1a1a"}, "encoding": {"y": {"field": "mean", "type": "quantitative", "scale": {"domain": [0, 1], "nice": false}, "axis": {"values": [0,0.2,0.4,0.6,0.8,1], "labelExpr": "datum.value == 0 ? '0' : format(datum.value, '.1f')", "title": "Plasma C-peptide level (pg/ml)", "titlePadding": 8}}}},
    {"mark": {"type": "rule", "color": "#1a1a1a"}, "encoding": {"y": {"field": "mean", "type": "quantitative"}, "y2": {"field": "hi"}}},
    {"mark": {"type": "tick", "orient": "horizontal", "size": 9, "thickness": 1, "color": "#1a1a1a"}, "encoding": {"y": {"field": "hi", "type": "quantitative"}}},
    {"mark": {"type": "text", "baseline": "bottom", "dy": -1, "fontSize": 8, "color": "#222"}, "encoding": {"y": {"field": "hi", "type": "quantitative"}, "text": {"field": "sig"}}},
    {"transform": [{"filter": "datum.sub != ''"}], "mark": {"type": "text", "angle": 270, "align": "right", "baseline": "middle", "dx": -24, "fontSize": 8, "color": "#222"}, "encoding": {"y": {"datum": 0}, "text": {"field": "sub"}}},
    {"data": {"values": [{}]}, "mark": {"type": "rule", "color": "#222", "yOffset": 45}, "encoding": {"x": {"datum": "Sham", "bandPosition": 0.0}, "x2": {"datum": "8W", "bandPosition": 0.8}, "y": {"datum": 0}}},
    {"data": {"values": [{}]}, "mark": {"type": "text", "text": "RYGB", "baseline": "top", "yOffset": 49, "fontSize": 8, "color": "#222"}, "encoding": {"x": {"datum": "2W", "bandPosition": 1.3}, "y": {"datum": 0}}}
   ]
  }
 ], "spacing": 16, "title": {"text": "(g)", "orient": "bottom", "anchor": "middle", "offset": 3, "frame": "bounds", "dx": -8}},
 {"vconcat": [
  {"width": 141, "height": 1, "data": {"values": []}, "mark": {"type": "point"}, "encoding": {}},
  {"width": 138, "height": 110, "data": {"name": "glp"},
   "encoding": {"x": {"field": "group", "type": "nominal", "scale": {"domain": ["ND","D","Sham","2W","4W","8W"], "paddingInner": 0.4, "paddingOuter": 0.3},
     "axis": {"labelExpr": "datum.value == 'ND' ? '–' : '+'", "labelAngle": 0, "tickSize": 3, "labelPadding": 2, "title": "Diabetic", "titleAngle": 0, "titleAlign": "right", "titleBaseline": "top", "titleX": -12, "titleY": 6}}},
   "layer": [
    {"mark": {"type": "bar", "color": "#1a1a1a"}, "encoding": {"y": {"field": "mean", "type": "quantitative", "scale": {"domain": [0, 200], "nice": false}, "axis": {"values": [0,50,100,150,200], "title": "Plasma GLP-1 level (pmol/l)", "titlePadding": 6}}}},
    {"mark": {"type": "rule", "color": "#1a1a1a"}, "encoding": {"y": {"field": "mean", "type": "quantitative"}, "y2": {"field": "hi"}}},
    {"mark": {"type": "tick", "orient": "horizontal", "size": 9, "thickness": 1, "color": "#1a1a1a"}, "encoding": {"y": {"field": "hi", "type": "quantitative"}}},
    {"mark": {"type": "text", "baseline": "bottom", "dy": -1, "fontSize": 8, "color": "#222"}, "encoding": {"y": {"field": "hi", "type": "quantitative"}, "text": {"field": "sig"}}},
    {"transform": [{"filter": "datum.sub != ''"}], "mark": {"type": "text", "align": "center", "baseline": "middle", "dy": 18, "fontSize": 8, "color": "#222"}, "encoding": {"y": {"datum": 0}, "text": {"field": "sub"}}},
    {"data": {"values": [{}]}, "mark": {"type": "rule", "color": "#222", "yOffset": 25}, "encoding": {"x": {"datum": "Sham", "bandPosition": -0.2}, "x2": {"datum": "8W", "bandPosition": 1.0}, "y": {"datum": 0}}},
    {"data": {"values": [{}]}, "mark": {"type": "text", "text": "RYGB", "baseline": "top", "yOffset": 29, "fontSize": 8, "color": "#222"}, "encoding": {"x": {"datum": "2W", "bandPosition": 1.2}, "y": {"datum": 0}}}
   ]
  }
 ], "spacing": 14, "title": {"text": "(h)", "orient": "bottom", "anchor": "middle", "offset": 9, "frame": "bounds", "dx": -12}}
], "spacing": 14}
],
"resolve": {"scale": {"shape": "independent", "strokeDash": "independent"}, "legend": {"shape": "independent", "strokeDash": "independent"}},
"config": {
 "view": {"stroke": null},
 "font": "Liberation Serif, Times New Roman, serif",
 "axis": {"labelFont": "Liberation Serif, Times New Roman, serif", "titleFont": "Liberation Serif, Times New Roman, serif", "labelFontSize": 8, "titleFontSize": 8, "titleFontWeight": "normal", "labelColor": "#222", "titleColor": "#222", "domainColor": "#222", "tickColor": "#222", "grid": false, "tickSize": 4, "labelPadding": 3, "titlePadding": 6},
 "legend": {"orient": "bottom", "columns": 2, "symbolSize": 144, "labelFont": "Liberation Serif, Times New Roman, serif", "labelFontSize": 8, "labelColor": "#222", "labelOffset": 10, "columnPadding": 8, "rowPadding": 1, "padding": 0, "symbolStrokeWidth": 0},
 "title": {"font": "Liberation Serif, Times New Roman, serif", "fontSize": 9, "fontWeight": "normal", "color": "#222"},
 "text": {"font": "Liberation Serif, Times New Roman, serif"}
}
}
